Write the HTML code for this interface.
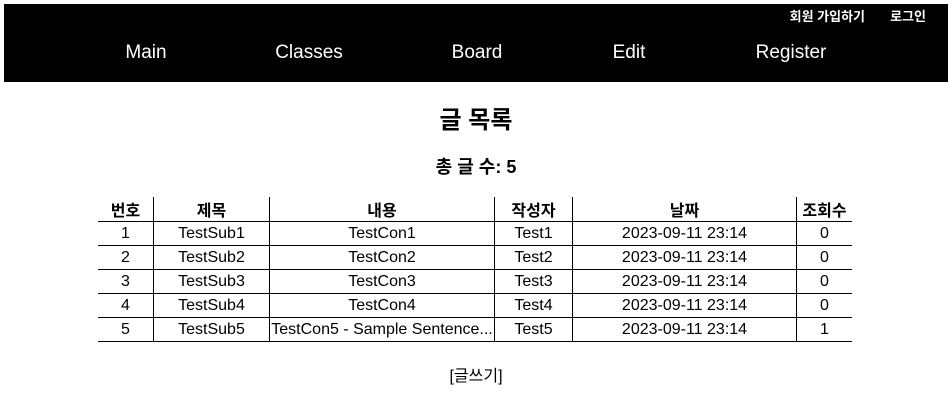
<!DOCTYPE html>
<html><head><meta charset="utf-8"><style>
body{margin:0;width:952px;height:406px;background:#fff;font-family:"Liberation Sans","Noto Sans CJK KR",sans-serif;position:relative;overflow:hidden}
.nav{position:absolute;left:4px;top:4px;width:944px;height:78px;background:#000}
.a{position:absolute;color:#fff;white-space:nowrap}
.m{font-size:19px;top:38px;transform:translateX(-50%)}
.t{position:absolute;font-size:16px;color:#000;white-space:nowrap}
table{position:absolute;left:98px;top:197px;border-collapse:collapse;font-size:16px}
td,th{height:23px;padding:0;text-align:center;border-bottom:1px solid #000;border-left:1px solid #000;white-space:nowrap;overflow:hidden}
td:first-child,th:first-child{border-left:none}
th{font-weight:bold}
</style></head><body>
<div class="nav">
<span class="a" style="right:83px;top:2px;font-size:13px;font-weight:bold">회원 가입하기</span>
<span class="a" style="right:22px;top:2px;font-size:13px;font-weight:bold">로그인</span>
<span class="a m" style="left:142px">Main</span>
<span class="a m" style="left:305px">Classes</span>
<span class="a m" style="left:473px">Board</span>
<span class="a m" style="left:625px">Edit</span>
<span class="a m" style="left:787px">Register</span>
</div>
<div class="t" style="left:0;width:952px;text-align:center;top:100px;font-size:24px;font-weight:bold">글 목록</div>
<div class="t" style="left:0;width:952px;text-align:center;top:153px;font-size:18px;font-weight:bold">총 글 수: 5</div>
<table>
<tr><th style="width:55px">번호</th><th style="width:115px">제목</th><th style="width:224px">내용</th><th style="width:77px">작성자</th><th style="width:223px">날짜</th><th style="width:55px">조회수</th></tr>
<tr><td>1</td><td>TestSub1</td><td>TestCon1</td><td>Test1</td><td>2023-09-11 23:14</td><td>0</td></tr>
<tr><td>2</td><td>TestSub2</td><td>TestCon2</td><td>Test2</td><td>2023-09-11 23:14</td><td>0</td></tr>
<tr><td>3</td><td>TestSub3</td><td>TestCon3</td><td>Test3</td><td>2023-09-11 23:14</td><td>0</td></tr>
<tr><td>4</td><td>TestSub4</td><td>TestCon4</td><td>Test4</td><td>2023-09-11 23:14</td><td>0</td></tr>
<tr><td>5</td><td>TestSub5</td><td>TestCon5 - Sample Sentence...</td><td>Test5</td><td>2023-09-11 23:14</td><td>1</td></tr>
</table>
<div class="t" style="left:0;width:952px;text-align:center;top:362px">[글쓰기]</div>
</body></html>
